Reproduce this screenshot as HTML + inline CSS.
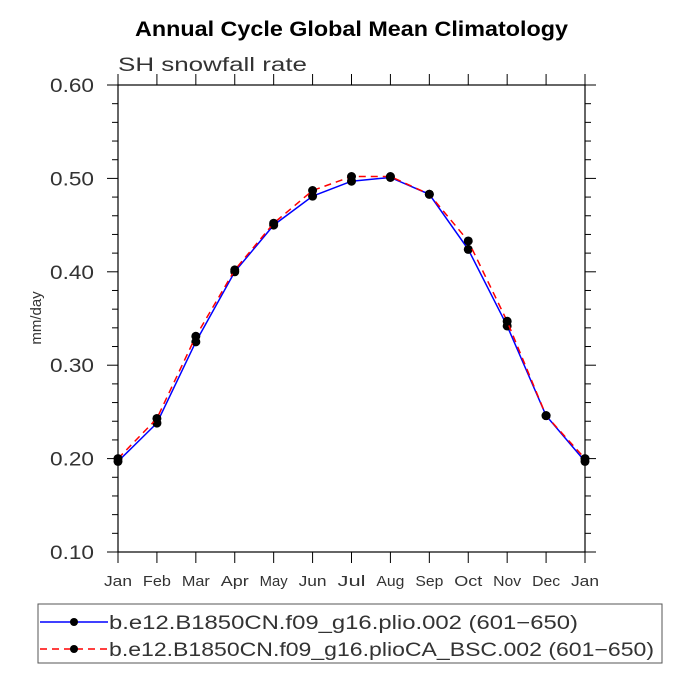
<!DOCTYPE html>
<html><head><meta charset="utf-8"><style>
html,body{margin:0;padding:0;background:#fff;}
svg{display:block;font-family:"Liberation Sans",sans-serif;}
</style></head><body>
<svg id="chart" width="687" height="687" viewBox="0 0 687 687">
<text x="135" y="36" textLength="433" lengthAdjust="spacingAndGlyphs" font-size="21" font-weight="bold">Annual Cycle Global Mean Climatology</text>
<text x="118" y="71" textLength="189" lengthAdjust="spacingAndGlyphs" font-size="19" fill="#333">SH snowfall rate</text>
<text transform="translate(41,318) rotate(-90)" text-anchor="middle" font-size="15" fill="#333">mm/day</text>
<g id="axes"></g>
<g id="series"></g>
<rect x="38" y="604" width="624" height="59" fill="none" stroke="#555" stroke-width="1"/>
<g>
<line x1="40" y1="622" x2="108" y2="622" stroke="blue" stroke-width="1.5"/>
<circle cx="74" cy="622" r="4" fill="#000"/>
<text x="109" y="629" textLength="469" lengthAdjust="spacingAndGlyphs" font-size="19" fill="#333">b.e12.B1850CN.f09_g16.plio.002 (601−650)</text>
</g>
<g>
<line x1="40" y1="649" x2="108" y2="649" stroke="red" stroke-width="1.5" stroke-dasharray="7,5"/>
<circle cx="74" cy="649" r="4" fill="#000"/>
<text x="109" y="656" textLength="545" lengthAdjust="spacingAndGlyphs" font-size="19" fill="#333">b.e12.B1850CN.f09_g16.plioCA_BSC.002 (601−650)</text>
</g>
</svg>
<script>
const months = ["Jan","Feb","Mar","Apr","May","Jun","Jul","Aug","Sep","Oct","Nov","Dec","Jan"];
const yTicks = [0.10,0.20,0.30,0.40,0.50,0.60];
const yTickLabels = ["0.10","0.20","0.30","0.40","0.50","0.60"];
const plioValues = [0.197,0.238,0.325,0.400,0.450,0.481,0.497,0.501,0.483,0.424,0.342,0.246,0.197];
const bscValues = [0.200,0.243,0.331,0.402,0.452,0.487,0.502,0.502,0.483,0.433,0.347,0.246,0.200];

const NS="http://www.w3.org/2000/svg";
const X0=118,X1=585,Y0=552,Y1=85,YMIN=0.1,YMAX=0.6;
function xs(i){return X0+(X1-X0)*i/(months.length-1);}
function ys(v){return Y0-(v-YMIN)/(YMAX-YMIN)*(Y0-Y1);}
function mk(tag,attrs,parent){const e=document.createElementNS(NS,tag);for(const k in attrs)e.setAttribute(k,attrs[k]);parent.appendChild(e);return e;}
const axes=document.getElementById('axes');
const frame=mk('rect',{x:X0,y:Y1,width:X1-X0,height:Y0-Y1,fill:'none',stroke:'#000','stroke-width':1.2},axes);


months.forEach((m,i)=>{
  const x=xs(i);
  mk('line',{x1:x,y1:Y0,x2:x,y2:Y0+11,stroke:'#000','stroke-width':1},axes);
  mk('line',{x1:x,y1:Y1,x2:x,y2:Y1-11,stroke:'#000','stroke-width':1},axes);
  const t=mk('text',{x:x-14,y:Y0+34,textLength:28,lengthAdjust:'spacingAndGlyphs','font-size':15,fill:'#333'},axes);
  t.textContent=m;
  
  
});
for(let v=YMIN;v<=YMAX+1e-9;v+=0.02){
  const y=ys(v);
  const major=Math.abs(Math.round(v*10)-v*10)<1e-6;
  const L=major?11:6;
  mk('line',{x1:X0-L,y1:y,x2:X0,y2:y,stroke:'#000','stroke-width':1},axes);
  mk('line',{x1:X1,y1:y,x2:X1+L,y2:y,stroke:'#000','stroke-width':1},axes);
}
yTicks.forEach((v,i)=>{
  const t=mk('text',{x:50,y:ys(v)+7,textLength:44,lengthAdjust:'spacingAndGlyphs','font-size':19,fill:'#333'},axes);
  t.textContent=yTickLabels[i];
  
  
});
const series=document.getElementById('series');
function draw(vals,color,dash,name){
  const g=mk('g',{},series);
  
  
  const pts=vals.map((v,i)=>xs(i)+','+ys(v)).join(' ');
  const a={points:pts,fill:'none',stroke:color,'stroke-width':1.5};
  if(dash)a['stroke-dasharray']=dash;
  mk('polyline',a,g);
  vals.forEach((v,i)=>{
    const c=mk('circle',{cx:xs(i),cy:ys(v),r:4.5,fill:'#000'},g);
    
    
  });
}
draw(plioValues,'blue',null,'series-plio');
draw(bscValues,'red','7,5','series-pliocabsc');
</script>
</body></html>
